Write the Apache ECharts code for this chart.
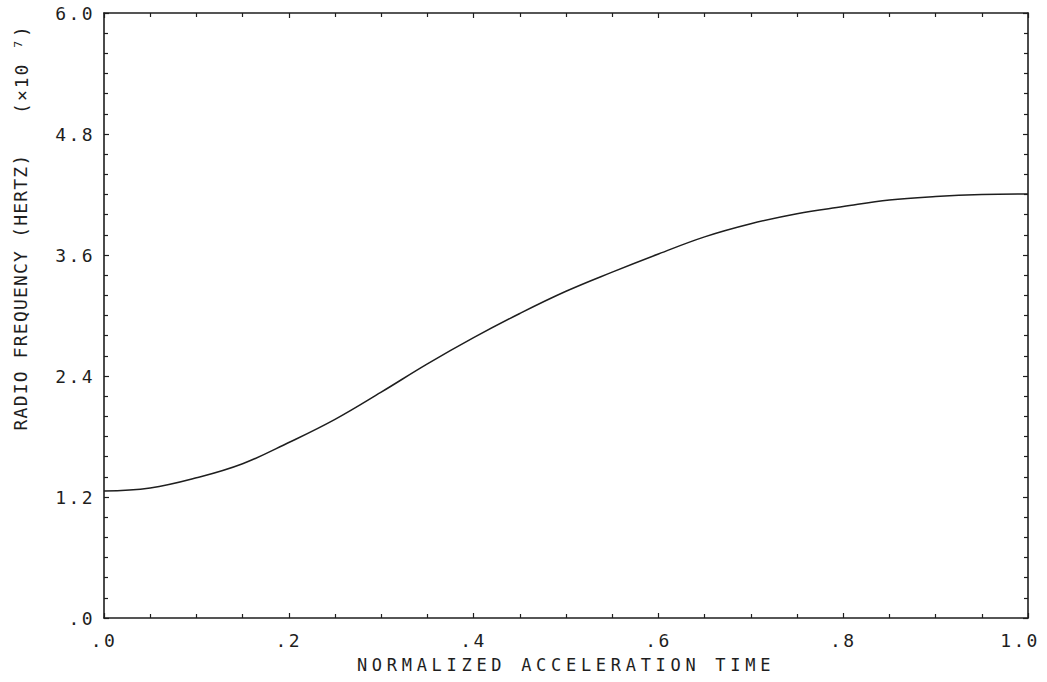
<!DOCTYPE html>
<html>
<head>
<meta charset="utf-8">
<title>Radio frequency vs normalized acceleration time</title>
<script src="https://cdn.jsdelivr.net/npm/echarts@6/dist/echarts.min.js"></script>
<style>
  html, body { margin: 0; padding: 0; background: #fff; }
  #main { width: 1047px; height: 682px; }
</style>
</head>
<body>
<div id="main"></div>
<script>
// normalized acceleration time (0..1)
var timeValues = [0, 0.05, 0.10, 0.15, 0.20, 0.25, 0.30, 0.35, 0.40, 0.45, 0.50,
  0.55, 0.60, 0.65, 0.70, 0.75, 0.80, 0.85, 0.90, 0.95, 1.0];
// radio frequency, units of 10^7 Hz
var freqValues = [1.26, 1.29, 1.39, 1.53, 1.74, 1.97, 2.24, 2.52, 2.78, 3.02, 3.24,
  3.43, 3.61, 3.78, 3.91, 4.01, 4.08, 4.145, 4.18, 4.20, 4.205];

var xTicks = [0, 0.2, 0.4, 0.6, 0.8, 1.0];
var yTicks = [0, 1.2, 2.4, 3.6, 4.8, 6.0];

var xTitle = 'NORMALIZED ACCELERATION TIME';
var yTitle = 'RADIO FREQUENCY (HERTZ)';
var yScale = '(×10 ⁷)';

var FONT = 'DejaVu Sans Mono';
var INK = '#1e1e1e';

function fmtX(v) {
  // last label sits a bit inside the frame, like on the plot
  if (v >= 1) return '{last|1.0}';
  return v.toFixed(1).replace(/^0/, '');
}
function fmtY(v) {
  if (v === 0) return '.0';
  return v.toFixed(1);
}

var points = [];
for (var i = 0; i < timeValues.length; i++) {
  points.push([timeValues[i], freqValues[i]]);
}

var chart = echarts.init(document.getElementById('main'), null, {renderer: 'svg'});

function frameAxis(pos, isX, withLabels) {
  var step = isX ? xTicks[1] - xTicks[0] : yTicks[1] - yTicks[0];
  var ax = {
    type: 'value',
    position: pos,
    min: isX ? xTicks[0] : yTicks[0],
    max: isX ? xTicks[xTicks.length - 1] : yTicks[yTicks.length - 1],
    interval: step,
    axisLine: {show: true, onZero: false, lineStyle: {color: INK, width: 1.6}},
    axisTick: {show: true, inside: true, length: 5, lineStyle: {color: INK, width: 1.2}},
    minorTick: {show: true, splitNumber: isX ? 4 : 6, length: 4, lineStyle: {color: INK, width: 1.2}},
    splitLine: {show: false},
    minorSplitLine: {show: false},
    axisLabel: {
      show: withLabels,
      margin: isX ? 13 : 9,
      fontFamily: FONT,
      fontSize: 18,
      color: INK,
      formatter: isX ? fmtX : fmtY,
      rich: {
        last: {fontFamily: FONT, fontSize: 18, color: INK, padding: [0, 16, 0, 0]}
      }
    }
  };
  return ax;
}

var xBottom = frameAxis('bottom', true, true);
xBottom.name = xTitle;
xBottom.nameLocation = 'middle';
xBottom.nameGap = 38;
xBottom.nameTextStyle = {fontFamily: FONT, fontSize: 17, color: INK};

chart.setOption({
  animation: false,
  backgroundColor: '#fff',
  grid: {left: 104, right: 19, top: 13, bottom: 64, containLabel: false},
  xAxis: [xBottom, frameAxis('top', true, false)],
  yAxis: [frameAxis('left', false, true), frameAxis('right', false, false)],
  graphic: [
    {
      type: 'text', x: 20, y: 292, rotation: Math.PI / 2,
      style: {text: yTitle, font: '18px "' + FONT + '"', fill: INK, align: 'center', verticalAlign: 'middle'}
    },
    {
      type: 'text', x: 21, y: 69, rotation: Math.PI / 2,
      style: {text: yScale, font: '18px "' + FONT + '"', fill: INK, align: 'center', verticalAlign: 'middle'}
    }
  ],
  series: [{
    type: 'line',
    xAxisIndex: 0,
    yAxisIndex: 0,
    data: points,
    smooth: 0.4,
    showSymbol: false,
    lineStyle: {color: INK, width: 1.5}
  }]
});

// plotter lettering is widely spaced; widen the svg text a little
function spaceText() {
  var texts = document.querySelectorAll('#main text');
  for (var i = 0; i < texts.length; i++) {
    var s = texts[i].textContent;
    var ls = '2.4px';
    if (s === xTitle) ls = '4.7px';
    else if (s === yTitle) ls = '1.2px';
    else if (s === yScale) ls = '2px';
    texts[i].setAttribute('letter-spacing', ls);
  }
}
chart.on('finished', spaceText);
spaceText();
</script>
</body>
</html>
